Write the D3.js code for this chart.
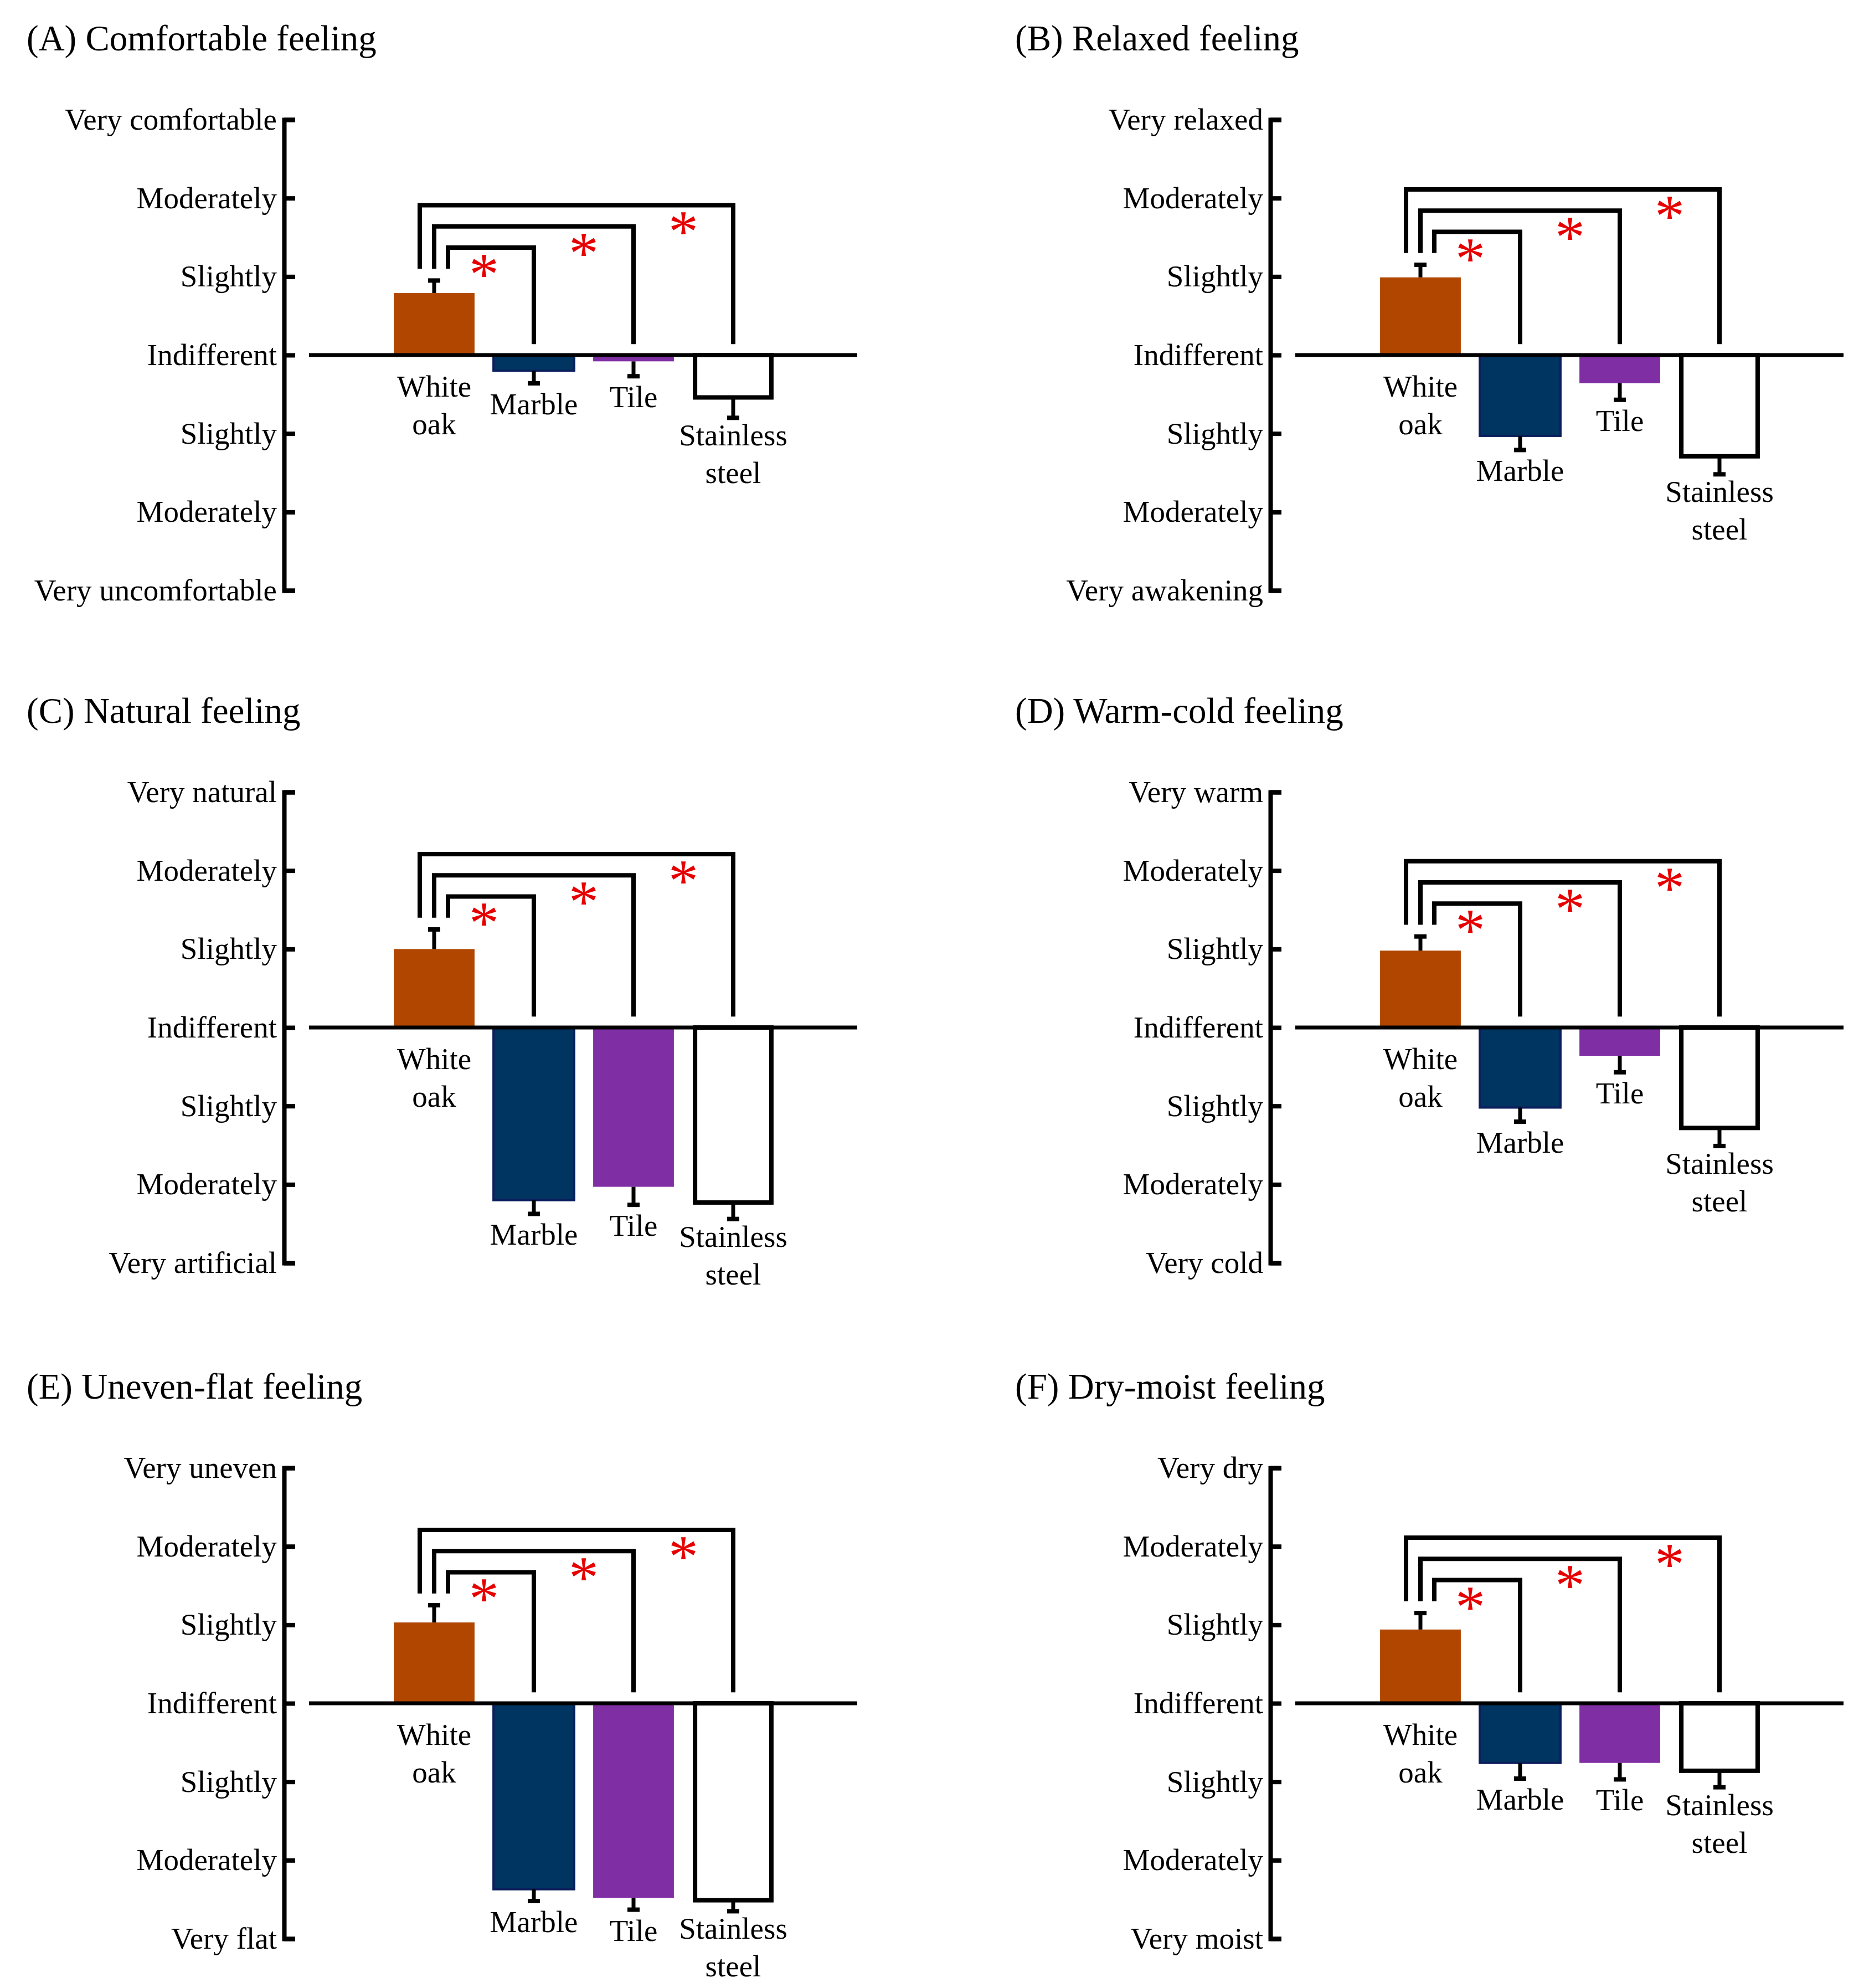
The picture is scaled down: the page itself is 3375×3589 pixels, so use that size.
<!DOCTYPE html>
<html>
<head>
<meta charset="utf-8">
<script src="https://cdn.jsdelivr.net/npm/d3@7"></script>
<style>
  body { margin: 0; background: #ffffff; }
  svg { display: block; }
</style>
</head>
<body>
<svg id="chart" width="3375" height="3589"></svg>
<script>
// ---------------- DATA ----------------
const categories = ["White oak", "Marble", "Tile", "Stainless steel"];
const tickValues = [3, 2, 1, 0, -1, -2, -3];

const titles = [
  "(A) Comfortable feeling",
  "(B) Relaxed feeling",
  "(C) Natural feeling",
  "(D) Warm-cold feeling",
  "(E) Uneven-flat feeling",
  "(F) Dry-moist feeling"
];

// tick labels, from +3 (top) to -3 (bottom)
const ticksA = ["Very comfortable", "Moderately", "Slightly", "Indifferent", "Slightly", "Moderately", "Very uncomfortable"];
const ticksB = ["Very relaxed", "Moderately", "Slightly", "Indifferent", "Slightly", "Moderately", "Very awakening"];
const ticksC = ["Very natural", "Moderately", "Slightly", "Indifferent", "Slightly", "Moderately", "Very artificial"];
const ticksD = ["Very warm", "Moderately", "Slightly", "Indifferent", "Slightly", "Moderately", "Very cold"];
const ticksE = ["Very uneven", "Moderately", "Slightly", "Indifferent", "Slightly", "Moderately", "Very flat"];
const ticksF = ["Very dry", "Moderately", "Slightly", "Indifferent", "Slightly", "Moderately", "Very moist"];

// mean scores (White oak, Marble, Tile, Stainless steel)
const meansA = [0.79, -0.20, -0.08, -0.54];
const meansB = [0.99, -1.03, -0.36, -1.29];
const meansC = [1.00, -2.20, -2.03, -2.23];
const meansD = [0.98, -1.02, -0.36, -1.28];
const meansE = [1.03, -2.37, -2.48, -2.51];
const meansF = [0.94, -0.76, -0.76, -0.86];

// standard errors
const errA = [0.16, 0.16, 0.19, 0.26];
const errB = [0.16, 0.18, 0.21, 0.23];
const errC = [0.25, 0.175, 0.23, 0.21];
const errD = [0.18, 0.18, 0.21, 0.23];
const errE = [0.22, 0.15, 0.15, 0.14];
const errF = [0.21, 0.20, 0.21, 0.21];

// significance markers: White oak vs each other material
const significance = ["*", "*", "*"];

// ---------------- STYLE / LAYOUT ----------------
const FONT = "'Liberation Serif', 'Times New Roman', Times, serif";
const barFill = ["#b04600", "#003461", "#802ea4", "#ffffff"];
const starColor = "#e60000";

const panels = [
  { title: titles[0], ticks: ticksA, means: meansA, errs: errA },
  { title: titles[1], ticks: ticksB, means: meansB, errs: errB },
  { title: titles[2], ticks: ticksC, means: meansC, errs: errC },
  { title: titles[3], ticks: ticksD, means: meansD, errs: errD },
  { title: titles[4], ticks: ticksE, means: meansE, errs: errE },
  { title: titles[5], ticks: ticksF, means: meansF, errs: errF }
];

const colAxisX = [513, 2294];
const titleX = [48, 1833];
const rowTop = [216, 1430, 2650];
const plotH = 850;

const svg = d3.select("#chart");
svg.append("rect").attr("width", 3375).attr("height", 3589).attr("fill", "#ffffff");

panels.forEach((p, i) => {
  const col = i % 2, row = Math.floor(i / 2);
  const ax = colAxisX[col], top = rowTop[row];
  const g = svg.append("g");

  const y = d3.scaleLinear().domain([-3, 3]).range([top + plotH, top]);
  const x = d3.scaleBand().domain(categories)
    .range([ax + 181, ax + 901]).paddingInner(0.19).paddingOuter(0.095);
  const cx = c => x(c) + x.bandwidth() / 2;

  // title
  g.append("text")
    .attr("x", titleX[col]).attr("y", top - 125)
    .attr("font-family", FONT).attr("font-size", 65).attr("fill", "#000")
    .text(p.title);

  // y axis
  const axis = d3.axisLeft(y).tickValues(tickValues)
    .tickSize(-20).tickPadding(13)
    .tickFormat(d => p.ticks[3 - d]);
  const ag = g.append("g").attr("transform", `translate(${ax},0)`).call(axis);
  ag.select(".domain").attr("stroke", "#000").attr("stroke-width", 8).attr("fill", "none");
  ag.selectAll(".tick line").attr("stroke", "#000").attr("stroke-width", 8);
  ag.selectAll(".tick text")
    .attr("font-family", FONT).attr("font-size", 55).attr("fill", "#000");

  // bars
  categories.forEach((c, j) => {
    const v = p.means[j];
    const y0 = y(0), yv = y(v);
    const r = g.append("rect")
      .attr("y", Math.min(y0, yv)).attr("height", Math.abs(yv - y0))
      .attr("fill", barFill[j]);
    if (j === 3) {
      r.attr("x", x(c) + 4).attr("width", x.bandwidth() - 8)
        .attr("stroke", "#000").attr("stroke-width", 8);
    } else {
      r.attr("x", x(c)).attr("width", x.bandwidth());
      if (j === 1) r.attr("stroke", "#0b1f5c").attr("stroke-width", 4);
    }
  });

  // zero line
  g.append("line")
    .attr("x1", ax + 45).attr("x2", ax + 1035)
    .attr("y1", y(0)).attr("y2", y(0))
    .attr("stroke", "#000").attr("stroke-width", 7);

  // error bars (one-sided, away from zero)
  categories.forEach((c, j) => {
    const v = p.means[j];
    const end = v + Math.sign(v) * p.errs[j];
    const xc = cx(c);
    g.append("line")
      .attr("x1", xc).attr("x2", xc).attr("y1", y(v)).attr("y2", y(end))
      .attr("stroke", "#000").attr("stroke-width", 7);
    g.append("line")
      .attr("x1", xc - 11).attr("x2", xc + 11).attr("y1", y(end)).attr("y2", y(end))
      .attr("stroke", "#000").attr("stroke-width", 8);
  });

  // category labels
  categories.forEach((c, j) => {
    const v = p.means[j];
    const end = v + Math.sign(v) * p.errs[j];
    const gap = j === 3 ? 50 : 56;
    const base = v > 0 ? y(0) + 75 : y(end) + gap;
    const lines = c.split(" ");
    lines.forEach((ln, k) => {
      g.append("text")
        .attr("x", cx(c)).attr("y", base + k * 68)
        .attr("text-anchor", "middle")
        .attr("font-family", FONT).attr("font-size", 55).attr("fill", "#000")
        .text(ln);
    });
  });

  // significance brackets
  const woTop = p.means[0] + p.errs[0];
  const inner = woTop + 0.42;
  const legOffsets = [25, 0, -26];
  for (let j = 1; j < categories.length; j++) {
    const level = inner + 0.27 * (j - 1);
    const lx = cx(categories[0]) + legOffsets[j - 1];
    const rx = cx(categories[j]);
    g.append("path")
      .attr("d", `M${lx},${y(inner - 0.27)}V${y(level)}H${rx}V${y(0.14)}`)
      .attr("fill", "none").attr("stroke", "#000").attr("stroke-width", 8);
    const sx = (cx(categories[j - 1]) + cx(categories[j])) / 2;
    g.append("text")
      .attr("x", sx).attr("y", y(level - 0.24) + 50)
      .attr("text-anchor", "middle")
      .attr("font-family", FONT).attr("font-size", 108).attr("fill", starColor)
      .text(significance[j - 1]);
  }
});
</script>
</body>
</html>
